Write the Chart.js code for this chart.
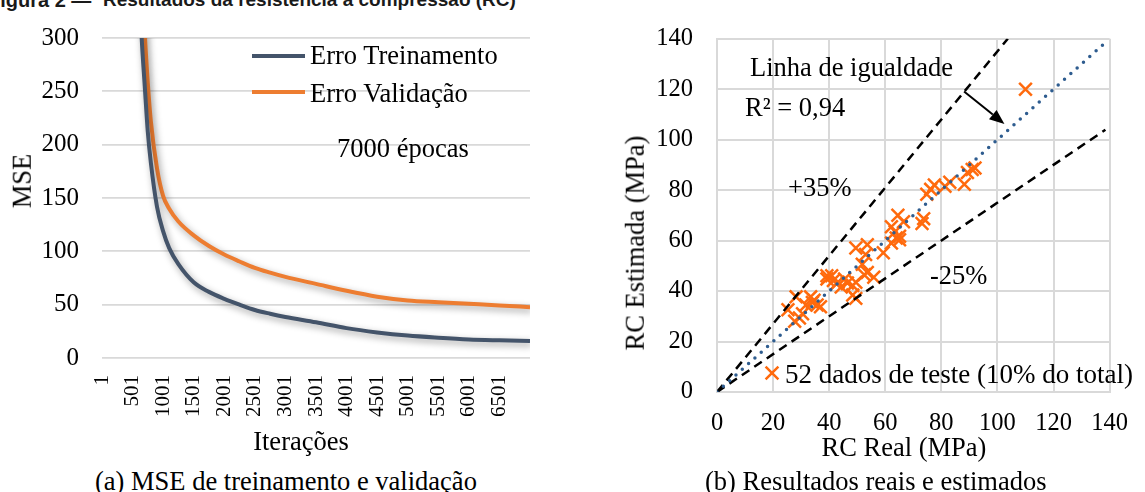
<!DOCTYPE html>
<html lang="pt">
<head>
<meta charset="utf-8">
<title>Resultados da resistência à compressão (RC)</title>
<script src="https://cdn.jsdelivr.net/npm/chart.js@4.4.1/dist/chart.umd.min.js"></script>
<style>
  html, body { margin: 0; padding: 0; background: #fff; }
  body { width: 1145px; height: 492px; position: relative; overflow: hidden;
         font-family: 'Liberation Serif', 'Times New Roman', serif; color: #000; }
  canvas { position: absolute; }
  .t { position: absolute; white-space: nowrap; font-size: 26.5px; line-height: 26.5px; }
  .c { transform: translateX(-50%); }
  .r { transform: translate(-50%, -50%) rotate(-90deg); }
  .tit { position: absolute; white-space: nowrap; top: -10px; font: bold 20px 'Liberation Sans', Arial, sans-serif; line-height: 20px; color: #1a1a1a; }
</style>
</head>
<body>
<div class="tit" style="left:-12px">Figura 2 —</div>
<div class="tit" style="left:103px;font-size:19px">Resultados da resistência à compressão (RC)</div>

<canvas id="mseChart" width="560" height="430" style="left:0;top:0;width:560px;height:430px"></canvas>
<canvas id="rcChart" width="545" height="440" style="left:600px;top:0;width:545px;height:440px"></canvas>

<!-- textos do gráfico (a) -->
<div class="t" style="left:310px;top:42px">Erro Treinamento</div>
<div class="t" style="left:310px;top:80px">Erro Validação</div>
<div class="t" style="left:337px;top:135px">7000 épocas</div>
<div class="t r" style="left:22px;top:181px">MSE</div>
<div class="t c" style="left:301px;top:428px">Iterações</div>
<div class="t" style="left:95px;top:468px">(a) MSE de treinamento e validação</div>

<!-- textos do gráfico (b) -->
<div class="t" style="left:750px;top:54px">Linha de igualdade</div>
<div class="t" style="left:745px;top:94px">R² = 0,94</div>
<div class="t" style="left:788px;top:174px">+35%</div>
<div class="t" style="left:930px;top:262px">-25%</div>
<div class="t" style="left:785px;top:361px;font-size:27px">52 dados de teste (10% do total)</div>
<div class="t r" style="left:635px;top:243px">RC Estimada (MPa)</div>
<div class="t c" style="left:904px;top:434px">RC Real (MPa)</div>
<div class="t" style="left:705px;top:468px">(b) Resultados reais e estimados</div>

<script>
// ── dados (a): MSE por iteração ──
var iteracoes  = [600, 650, 700, 750, 800, 900, 1000, 1100, 1250, 1500, 1750, 2000, 2250, 2500, 2750, 3000, 3500, 4000, 4500, 5000, 5500, 6000, 6500, 7000];
var erroTreino = [370, 300, 255, 212, 183, 142, 119, 103, 88, 71, 62, 55.5, 50, 45, 41.5, 38.5, 33.5, 28, 24, 21, 19, 17.4, 16.6, 16];
var erroValid  = [450, 370, 305, 258, 222, 178, 152, 140, 128, 115, 105, 97, 90.5, 84.5, 80, 76, 69.5, 63, 57.5, 54, 52.3, 50.8, 49.3, 47.6];
var iterTicks  = [1, 501, 1001, 1501, 2001, 2501, 3001, 3501, 4001, 4501, 5001, 5501, 6001, 6501];
var mseTicks   = [0, 50, 100, 150, 200, 250, 300];

// ── dados (b): RC real x estimada (52 dados de teste) ──
var rcReal     = [25.3, 27.7, 28.2, 29.4, 30.5, 31.7, 33.4, 34.0, 34.6, 35.7, 36.9, 39.2, 39.2, 40.9, 41.5, 42.6, 43.2, 44.3, 45.5, 46.5, 48.4, 48.4, 49.5, 49.5, 49.5, 51.8, 52.5, 53.0, 53.6, 53.6, 55.9, 59.3, 62.2, 62.2, 63.5, 63.9, 64.5, 65.1, 65.1, 66.5, 73.1, 73.7, 74.8, 76.2, 77.5, 81.3, 83.0, 88.2, 89.3, 91.0, 92.0, 110.0];
var rcEstimada = [32.6, 28.0, 37.7, 29.3, 31.0, 34.5, 37.7, 35.5, 36.4, 34.5, 33.8, 46.1, 44.8, 46.1, 44.2, 42.9, 43.5, 41.6, 44.8, 43.2, 42.2, 38.4, 43.5, 37.1, 57.1, 50.6, 46.5, 54.5, 58.4, 47.4, 45.5, 55.2, 59.0, 65.5, 63.5, 61.0, 70.0, 60.3, 61.7, 67.5, 66.8, 68.7, 78.4, 80.3, 82.0, 81.5, 83.1, 82.3, 87.0, 88.2, 88.8, 120.0];
var linhaIgual = [[0, 0], [139, 139]];
var linhaMais35 = [[0, 0], [103.7, 140]];
var linhaMenos25 = [[0, 0], [138.5, 103.9]];
var setaDe = [88.1, 119.1];
var setaAte = [102.5, 106.2];
var rcTicks = [0, 20, 40, 60, 80, 100, 120, 140];

var serif = "'Liberation Serif', 'Times New Roman', serif";
var gridCol = '#D9D9D9';
var corTreino = '#44546A';
var corValid = '#ED7D31';
var corPonto = '#FF6A0D';

function pares(arr) { return arr.map(function(p) { return { x: p[0], y: p[1] }; }); }

// ── (a) sombra das linhas + legenda ──
var shadowPlugin = {
    id: 'lineShadow',
    beforeDatasetsDraw: function(chart) {
        var ctx = chart.ctx;
        ctx.save();
        ctx.shadowColor = 'rgba(0,0,0,0.38)';
        ctx.shadowBlur = 7;
        ctx.shadowOffsetX = 2;
        ctx.shadowOffsetY = 3;
    },
    afterDatasetsDraw: function(chart) { chart.ctx.restore(); },
    afterDraw: function(chart) {
        var ctx = chart.ctx;
        var ys = [56, 92];
        chart.data.datasets.forEach(function(ds, i) {
            ctx.save();
            ctx.strokeStyle = ds.borderColor;
            ctx.lineWidth = 4;
            ctx.beginPath();
            ctx.moveTo(252, ys[i]);
            ctx.lineTo(305, ys[i]);
            ctx.stroke();
            ctx.restore();
        });
    }
};

new Chart(document.getElementById('mseChart').getContext('2d'), {
    type: 'line',
    data: {
        datasets: [
            { label: 'Erro Treinamento', data: iteracoes.map(function(x, i) { return { x: x, y: erroTreino[i] }; }),
              borderColor: corTreino, borderWidth: 4, pointRadius: 0, cubicInterpolationMode: 'monotone', fill: false },
            { label: 'Erro Validação', data: iteracoes.map(function(x, i) { return { x: x, y: erroValid[i] }; }),
              borderColor: corValid, borderWidth: 4, pointRadius: 0, cubicInterpolationMode: 'monotone', fill: false }
        ]
    },
    options: {
        responsive: false, animation: false, devicePixelRatio: 1,
        layout: { padding: { top: 25, right: 30, left: 0, bottom: 0 } },
        plugins: { legend: { display: false }, tooltip: { enabled: false } },
        scales: {
            x: {
                type: 'linear', min: 1, max: 7000,
                grid: { display: false }, border: { display: false },
                afterBuildTicks: function(axis) { axis.ticks = iterTicks.map(function(v) { return { value: v }; }); },
                afterFit: function(axis) { axis.height = 72; },
                ticks: { autoSkip: false, minRotation: 90, maxRotation: 90, padding: 9, color: '#000',
                         font: { family: serif, size: 21 }, callback: function(v) { return String(v); } }
            },
            y: {
                min: 0, max: 300,
                grid: { color: gridCol, lineWidth: 1.8, drawTicks: false }, border: { display: false },
                afterBuildTicks: function(axis) { axis.ticks = mseTicks.map(function(v) { return { value: v }; }); },
                afterFit: function(axis) { axis.width = 102; },
                ticks: { padding: 23, color: '#000', font: { family: serif, size: 25 } }
            }
        }
    },
    plugins: [shadowPlugin]
});

// ── (b) seta e símbolo da legenda ──
var rcExtras = {
    id: 'rcExtras',
    afterDraw: function(chart) {
        var ctx = chart.ctx, sx = chart.scales.x, sy = chart.scales.y;
        var x0 = sx.getPixelForValue(setaDe[0]), y0 = sy.getPixelForValue(setaDe[1]);
        var x1 = sx.getPixelForValue(setaAte[0]), y1 = sy.getPixelForValue(setaAte[1]);
        var ang = Math.atan2(y1 - y0, x1 - x0), hl = 15, hw = 6;
        ctx.save();
        ctx.strokeStyle = '#000'; ctx.fillStyle = '#000'; ctx.lineWidth = 2;
        ctx.beginPath();
        ctx.moveTo(x0, y0);
        ctx.lineTo(x1 - Math.cos(ang) * hl, y1 - Math.sin(ang) * hl);
        ctx.stroke();
        ctx.beginPath();
        ctx.moveTo(x1, y1);
        ctx.lineTo(x1 - Math.cos(ang) * hl - Math.sin(ang) * hw, y1 - Math.sin(ang) * hl + Math.cos(ang) * hw);
        ctx.lineTo(x1 - Math.cos(ang) * hl + Math.sin(ang) * hw, y1 - Math.sin(ang) * hl - Math.cos(ang) * hw);
        ctx.closePath();
        ctx.fill();
        // legenda: ×
        var lx = 172, ly = 373, d = 6.4;
        ctx.strokeStyle = corPonto; ctx.lineWidth = 2.5;
        ctx.beginPath();
        ctx.moveTo(lx - d, ly - d); ctx.lineTo(lx + d, ly + d);
        ctx.moveTo(lx - d, ly + d); ctx.lineTo(lx + d, ly - d);
        ctx.stroke();
        ctx.restore();
    }
};

new Chart(document.getElementById('rcChart').getContext('2d'), {
    type: 'scatter',
    data: {
        datasets: [
            { label: 'Linha de igualdade', type: 'line', data: pares(linhaIgual), order: 1,
              borderColor: '#2E5C8F', borderWidth: 3.5, borderDash: [0, 8.5], borderCapStyle: 'round', pointRadius: 0, fill: false },
            { label: '+35%', type: 'line', data: pares(linhaMais35), order: 1,
              borderColor: '#000', borderWidth: 2.5, borderDash: [9, 6], pointRadius: 0, fill: false },
            { label: '-25%', type: 'line', data: pares(linhaMenos25), order: 1,
              borderColor: '#000', borderWidth: 2.5, borderDash: [9, 6], pointRadius: 0, fill: false },
            { label: '52 dados de teste (10% do total)', order: 2,
              data: rcReal.map(function(x, i) { return { x: x, y: rcEstimada[i] }; }),
              pointStyle: 'crossRot', pointRadius: 9, pointBorderWidth: 2.5, borderColor: corPonto, backgroundColor: corPonto }
        ]
    },
    options: {
        responsive: false, animation: false, devicePixelRatio: 1,
        layout: { padding: { top: 31, right: 23, left: 0, bottom: 0 } },
        plugins: { legend: { display: false }, tooltip: { enabled: false } },
        scales: {
            x: {
                type: 'linear', min: 0, max: 140,
                grid: { color: gridCol, lineWidth: 2, drawTicks: false }, border: { color: gridCol, width: 2 },
                afterBuildTicks: function(axis) { axis.ticks = rcTicks.map(function(v) { return { value: v }; }); },
                afterFit: function(axis) { axis.height = 48; },
                ticks: { padding: 17, color: '#000', font: { family: serif, size: 24.5 } }
            },
            y: {
                min: 0, max: 140,
                grid: { color: gridCol, lineWidth: 2, drawTicks: false }, border: { color: gridCol, width: 2 },
                afterBuildTicks: function(axis) { axis.ticks = rcTicks.map(function(v) { return { value: v }; }); },
                afterFit: function(axis) { axis.width = 117; },
                ticks: { padding: 24, color: '#000', font: { family: serif, size: 24.5 } }
            }
        }
    },
    plugins: [rcExtras]
});
</script>
</body>
</html>
